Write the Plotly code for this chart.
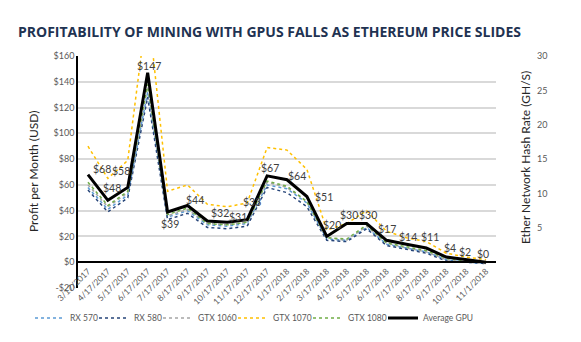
import plotly.graph_objects as go

# Monthly snapshots of GPU mining profitability
dates = ["3/17/2017", "4/17/2017", "5/17/2017", "6/17/2017", "7/17/2017",
         "8/17/2017", "9/17/2017", "10/17/2017", "11/17/2017", "12/17/2017",
         "1/17/2018", "2/17/2018", "3/17/2018", "4/17/2018", "5/17/2018",
         "6/17/2018", "7/17/2018", "8/17/2018", "9/17/2018", "10/17/2018",
         "11/1/2018"]

rx570 = [58, 41, 52, 132, 35, 40, 29, 28, 30, 60, 57, 46, 18, 17, 27, 14, 11, 8, 2, 0, -1]
rx580 = [56, 39, 50, 128, 33, 38, 27, 26, 28, 58, 54, 43, 17, 16, 26, 13, 10, 7, 1, 0, -1]
gtx1060 = [60, 43, 54, 136, 36, 41, 30, 29, 31, 62, 58, 47, 19, 17, 28, 15, 11, 8, 2, 0, -1]
gtx1070 = [90, 65, 79, 200, 55, 60, 45, 43, 46, 89, 87, 72, 25, 30, 40, 24, 19, 16, 7, 4, 2]
gtx1080 = [62, 44, 55, 138, 37, 42, 30, 29, 31, 63, 59, 47, 19, 18, 29, 15, 12, 9, 3, 1, 0]
average_gpu = [68, 48, 58, 147, 39, 44, 32, 31, 33, 67, 64, 51, 20, 30, 30, 17, 14, 11, 4, 2, 0]

# Pixel offsets of each value label from its point (right, up)
label_dx = [14, 4, -7, 1, 2, 8, 13, 11, 5, 3, 10, 17, 5, 2, 1, 0, 2, 4, 4, -1, -3]
label_dy = [6, 12, 16, 7, -12, 6, 8, 5, 18, 8, 4, -1, 11, 9, 9, 11, 7, 11, 9, 8, 8]

profit_ticks = [-20, 0, 20, 40, 60, 80, 100, 120, 140, 160]
hash_ticks = [5, 10, 15, 20, 25, 30]

grey_text = "#595959"
font_family = "Lato, 'Open Sans', sans-serif"

W, H = 581, 342
M_L, M_R, M_T, M_B = 78, 85, 56, 54
PLOT_W = W - M_L - M_R

fig = go.Figure()

gpu_series = [
    ("RX 570", rx570, "#5b9bd5"),
    ("RX 580", rx580, "#264478"),
    ("GTX 1060", gtx1060, "#a5a5a5"),
    ("GTX 1070", gtx1070, "#ffc000"),
    ("GTX 1080", gtx1080, "#70ad47"),
]
# one legend box per entry so the key sits in a single tight row
legend_left = [30, 94, 158, 233, 308, 383]

for i, (name, vals, color) in enumerate(gpu_series):
    fig.add_trace(go.Scatter(
        x=dates, y=vals, name=name, mode="lines",
        line=dict(color=color, width=1.5, dash="dot"),
        legend="legend" if i == 0 else f"legend{i + 1}",
    ))

fig.add_trace(go.Scatter(
    x=dates, y=average_gpu, name="Average GPU", mode="lines",
    line=dict(color="black", width=3),
    legend="legend6",
))

# Empty trace so the hash-rate axis is rendered
fig.add_trace(go.Scatter(
    x=[dates[0]], y=[None], yaxis="y2", showlegend=False,
    hoverinfo="skip", mode="lines",
))

legend_common = dict(
    orientation="h", xref="container", yref="container",
    xanchor="left", y=1 - 318 / H, yanchor="middle",
    font=dict(size=8.5, color=grey_text), itemwidth=30,
    bgcolor="rgba(0,0,0,0)",
)
legends = {}
for i, lx in enumerate(legend_left):
    key = "legend" if i == 0 else f"legend{i + 1}"
    legends[key] = dict(legend_common, x=lx / W)

fig.update_layout(
    width=W, height=H,
    margin=dict(l=M_L, r=M_R, t=M_T, b=M_B, autoexpand=False),
    paper_bgcolor="white", plot_bgcolor="white",
    font=dict(family=font_family, color=grey_text),
    title=dict(
        text="<b>PROFITABILITY OF MINING WITH GPUS FALLS AS ETHEREUM PRICE SLIDES</b>",
        font=dict(family="'Open Sans', sans-serif", size=14, color="#1f3352"),
        xref="container", yref="container",
        x=18 / W, xanchor="left", y=1 - 32 / H, yanchor="middle",
    ),
    xaxis=dict(
        type="category", range=[-0.5, len(dates) - 0.5],
        showgrid=False, showline=True, linecolor="black", linewidth=1.5,
        anchor="free", position=20 / 180, automargin=False,
        tickangle=-45, ticks="",
        tickfont=dict(size=8.5, color=grey_text),
    ),
    yaxis=dict(
        range=[-20, 160], tickvals=profit_ticks,
        ticktext=[f"-${-v}" if v < 0 else f"${v}" for v in profit_ticks],
        showgrid=True, gridcolor="#d9d9d9", gridwidth=1.5,
        zeroline=False, showline=True, linecolor="black", linewidth=1.5,
        tickfont=dict(size=9, color=grey_text), ticks="", automargin=False,
    ),
    yaxis2=dict(
        overlaying="y", side="right", range=[-3.75, 30], tickvals=hash_ticks,
        showgrid=False, zeroline=False, showline=False,
        tickfont=dict(size=9, color=grey_text), ticks="",
        ticklabelstandoff=40, automargin=False,
    ),
    showlegend=True,
    **legends,
)

# value labels on the average line
for d, v, dx, dy in zip(dates, average_gpu, label_dx, label_dy):
    fig.add_annotation(
        x=d, y=v, xref="x", yref="y", text=f"${v}", showarrow=False,
        xshift=dx, yshift=dy, xanchor="center", yanchor="middle",
        font=dict(family=font_family, size=10.5, color="#404040"),
    )

fig.add_annotation(
    text="Profit per Month (USD)", textangle=-90,
    xref="paper", yref="paper", x=-45 / PLOT_W, y=0.5,
    xanchor="center", yanchor="middle", showarrow=False,
    font=dict(size=12, color="#262626"),
)
fig.add_annotation(
    text="Ether Network Hash Rate (GH/S)", textangle=-90,
    xref="paper", yref="paper", x=1 + 29 / PLOT_W, y=0.56,
    xanchor="center", yanchor="middle", showarrow=False,
    font=dict(size=12, color="#262626"),
)

fig.write_html("out.html")
